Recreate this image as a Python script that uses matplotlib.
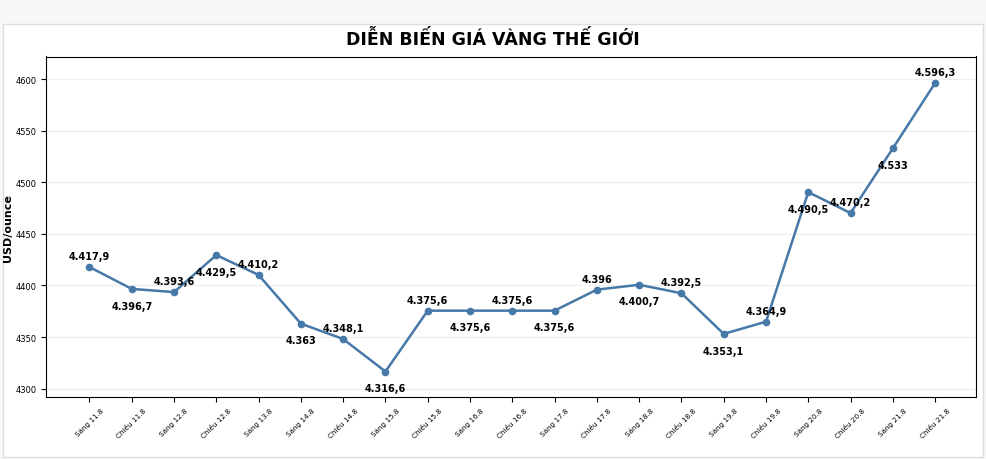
import matplotlib.pyplot as plt

labels = ['Sáng 11.8', 'Chiều 11.8', 'Sáng 12.8', 'Chiều 12.8', 'Sáng 13.8', 'Sáng 14.8',
          'Chiều 14.8', 'Sáng 15.8', 'Chiều 15.8', 'Sáng 16.8', 'Chiều 16.8', 'Sáng 17.8',
          'Chiều 17.8', 'Sáng 18.8', 'Chiều 18.8', 'Sáng 19.8', 'Chiều 19.8', 'Sáng 20.8',
          'Chiều 20.8', 'Sáng 21.8', 'Chiều 21.8']
prices = [4417.9, 4396.7, 4393.6, 4429.5, 4410.2, 4363, 4348.1, 4316.6, 4375.6, 4375.6,
          4375.6, 4375.6, 4396, 4400.7, 4392.5, 4353.1, 4364.9, 4490.5, 4470.2, 4533, 4596.3]
yticks = [4300, 4350, 4400, 4450, 4500, 4550, 4600]


def vn(v):
    s = f'{v:,.1f}'.rstrip('0').rstrip('.')
    return s.replace(',', 'X').replace('.', ',').replace('X', '.')


fig = plt.figure(figsize=(9.86, 4.6), dpi=100, facecolor='#f7f7f7')
ax = fig.add_axes([0.047, 0.135, 0.943, 0.74])
ax.set_facecolor('white')
fig.patches.append(plt.Rectangle((0.003, 0.005), 0.994, 0.94, transform=fig.transFigure,
                                 facecolor='white', edgecolor='#dddddd', zorder=-1))

x = list(range(len(prices)))
ax.plot(x, prices, color='#4678a8', linewidth=1.8, marker='o', markersize=4.5)

for i, v in enumerate(prices):
    off = 8 if i % 2 == 0 else -12
    ax.annotate(vn(v), (i, v), xytext=(0, off), textcoords='offset points',
                ha='center', va='center', fontsize=7, fontweight='bold')

ax.set_xticks(x)
ax.set_xticklabels(labels, rotation=45, fontsize=5.2)
ax.set_yticks(yticks)
ax.tick_params(axis='y', labelsize=6)
ax.set_ylim(4292, 4622)
ax.set_xlim(-1.02, len(prices) - 0.03)
ax.grid(axis='y', color='#eeeeee', linewidth=0.8)
ax.set_axisbelow(True)
ax.set_ylabel('USD/ounce', fontsize=8, fontweight='bold', labelpad=2)
fig.suptitle('DIỄN BIẾN GIÁ VÀNG THẾ GIỚI', fontsize=12.5, fontweight='bold', y=0.935)

fig.savefig('out.png', dpi=100, facecolor=fig.get_facecolor())
